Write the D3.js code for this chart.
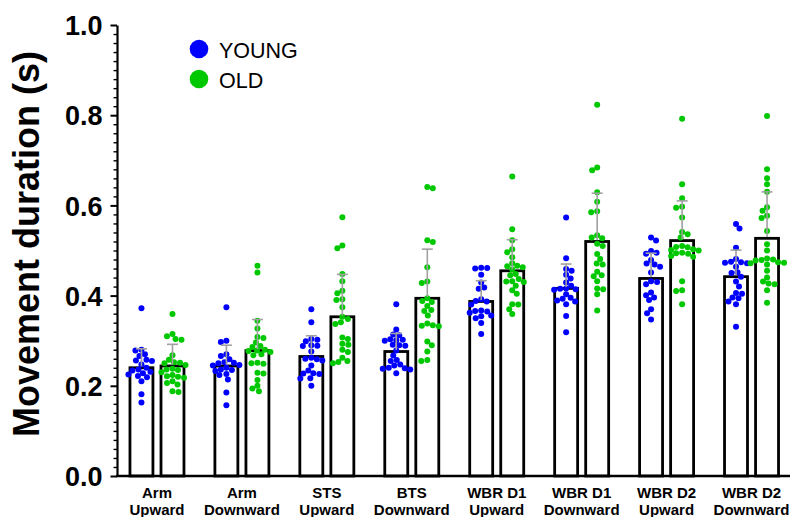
<!DOCTYPE html>
<html>
<head>
<meta charset="utf-8">
<script src="https://cdn.jsdelivr.net/npm/d3@7"></script>
<style>
  html, body { margin: 0; padding: 0; background: #fff; }
  svg { display: block; font-family: "Liberation Sans", Arial, sans-serif; }
</style>
</head>
<body>
<svg id="chart" width="790" height="517"></svg>
<script>
// ---------- DATA ----------
const categories = ["Arm Upward", "Arm Downward", "STS Upward", "BTS Downward",
                    "WBR D1 Upward", "WBR D1 Downward", "WBR D2 Upward", "WBR D2 Downward"];
const categoryLine1 = ["Arm", "Arm", "STS", "BTS", "WBR D1", "WBR D1", "WBR D2", "WBR D2"];
const categoryLine2 = ["Upward", "Downward", "Upward", "Downward", "Upward", "Downward", "Upward", "Downward"];
const seriesNames = ["YOUNG", "OLD"];

const youngMean = [0.240, 0.244, 0.265, 0.276, 0.387, 0.416, 0.438, 0.442];
const oldMean   = [0.244, 0.278, 0.353, 0.394, 0.455, 0.520, 0.522, 0.527];
const youngSD   = [0.042, 0.046, 0.046, 0.040, 0.046, 0.054, 0.056, 0.059];
const oldSD     = [0.048, 0.069, 0.094, 0.109, 0.069, 0.107, 0.088, 0.103];

const youngPoints = [
  [0.372, 0.280, 0.278, 0.270, 0.266, 0.258, 0.256, 0.255, 0.247, 0.240, 0.236, 0.234, 0.231, 0.228, 0.225, 0.222, 0.219, 0.210, 0.181, 0.163],
  [0.374, 0.300, 0.297, 0.270, 0.266, 0.259, 0.252, 0.251, 0.250, 0.246, 0.245, 0.240, 0.236, 0.235, 0.233, 0.226, 0.224, 0.214, 0.185, 0.157],
  [0.370, 0.341, 0.304, 0.302, 0.299, 0.290, 0.289, 0.288, 0.276, 0.262, 0.260, 0.259, 0.256, 0.245, 0.234, 0.228, 0.227, 0.226, 0.217, 0.216, 0.200],
  [0.381, 0.325, 0.314, 0.312, 0.303, 0.302, 0.301, 0.300, 0.291, 0.290, 0.289, 0.278, 0.267, 0.257, 0.255, 0.247, 0.245, 0.240, 0.239, 0.238, 0.236, 0.228],
  [0.462, 0.461, 0.460, 0.446, 0.429, 0.418, 0.415, 0.392, 0.388, 0.387, 0.380, 0.367, 0.366, 0.365, 0.362, 0.356, 0.354, 0.350, 0.339, 0.315],
  [0.573, 0.483, 0.459, 0.455, 0.446, 0.438, 0.429, 0.422, 0.416, 0.415, 0.414, 0.413, 0.403, 0.395, 0.393, 0.389, 0.387, 0.381, 0.355, 0.319],
  [0.529, 0.522, 0.499, 0.495, 0.493, 0.479, 0.471, 0.469, 0.464, 0.451, 0.432, 0.430, 0.425, 0.407, 0.401, 0.396, 0.390, 0.370, 0.361, 0.347],
  [0.559, 0.549, 0.506, 0.481, 0.475, 0.474, 0.473, 0.472, 0.464, 0.452, 0.450, 0.442, 0.431, 0.420, 0.406, 0.404, 0.396, 0.394, 0.387, 0.381, 0.331]
];
const oldPoints = [
  [0.359, 0.315, 0.310, 0.304, 0.302, 0.268, 0.258, 0.252, 0.251, 0.250, 0.246, 0.238, 0.236, 0.235, 0.230, 0.224, 0.221, 0.220, 0.218, 0.210, 0.206, 0.203, 0.188, 0.186],
  [0.466, 0.451, 0.344, 0.327, 0.308, 0.306, 0.296, 0.288, 0.286, 0.280, 0.278, 0.277, 0.275, 0.270, 0.268, 0.251, 0.250, 0.249, 0.229, 0.227, 0.213, 0.200, 0.194, 0.188],
  [0.574, 0.511, 0.505, 0.448, 0.432, 0.411, 0.405, 0.392, 0.390, 0.374, 0.353, 0.348, 0.341, 0.337, 0.307, 0.304, 0.293, 0.291, 0.280, 0.275, 0.262, 0.255, 0.253, 0.250],
  [0.641, 0.638, 0.523, 0.519, 0.463, 0.431, 0.428, 0.394, 0.388, 0.386, 0.377, 0.368, 0.366, 0.356, 0.338, 0.334, 0.333, 0.332, 0.298, 0.290, 0.276, 0.257, 0.255],
  [0.664, 0.547, 0.523, 0.503, 0.496, 0.485, 0.472, 0.466, 0.465, 0.463, 0.458, 0.448, 0.445, 0.437, 0.432, 0.431, 0.430, 0.422, 0.412, 0.404, 0.381, 0.380, 0.370, 0.359],
  [0.823, 0.684, 0.678, 0.629, 0.608, 0.587, 0.585, 0.534, 0.529, 0.527, 0.515, 0.510, 0.492, 0.481, 0.471, 0.469, 0.453, 0.445, 0.443, 0.432, 0.416, 0.414, 0.403, 0.367],
  [0.792, 0.647, 0.616, 0.597, 0.595, 0.573, 0.541, 0.536, 0.529, 0.510, 0.508, 0.507, 0.503, 0.501, 0.500, 0.495, 0.494, 0.493, 0.488, 0.486, 0.432, 0.412, 0.410, 0.381],
  [0.798, 0.680, 0.660, 0.647, 0.630, 0.596, 0.588, 0.577, 0.572, 0.543, 0.514, 0.500, 0.482, 0.480, 0.479, 0.478, 0.474, 0.473, 0.472, 0.469, 0.455, 0.440, 0.431, 0.427, 0.425, 0.412, 0.384]
];

const yMajorTicks = [0.0, 0.2, 0.4, 0.6, 0.8, 1.0];
const yLabel = "Movement duration (s)";
const seriesColors = ["#0000ff", "#00c800"];

// ---------- LAYOUT ----------
const svg = d3.select("#chart");
const axisX0 = 117, axisX1 = 790;

const y = d3.scaleLinear().domain([0, 1]).range([476, 25]);
const xg = d3.scaleBand().domain(categories).range([114.5, 794]).paddingInner(0).paddingOuter(0);
const xs = d3.scaleBand().domain(seriesNames).range([-27, 27]).paddingInner(0.26);

const groupCenter = c => xg(c) + xg.bandwidth() / 2;

const series = [
  { name: "YOUNG", mean: youngMean, sd: youngSD, pts: youngPoints, color: seriesColors[0] },
  { name: "OLD",   mean: oldMean,   sd: oldSD,   pts: oldPoints,   color: seriesColors[1] }
];

// Bars
const gBars = svg.append("g");
series.forEach(s => {
  gBars.selectAll(null)
    .data(categories)
    .enter().append("rect")
    .attr("x", (c) => groupCenter(c) + xs(s.name))
    .attr("y", (c, i) => y(s.mean[i]))
    .attr("width", xs.bandwidth())
    .attr("height", (c, i) => y(0) - y(s.mean[i]))
    .attr("fill", "#fff")
    .attr("stroke", "#000")
    .attr("stroke-width", 2.8);
});

// Beeswarm of points
const dotR = 3.0;
function swarm(values, cx) {
  const minD = 5.6;
  const placed = [];
  const sorted = values.slice().sort((a, b) => b - a);
  sorted.forEach((v, k) => {
    const py = y(v);
    let best = null;
    for (let step = 0; step < 200; step++) {
      const cands = step === 0 ? [0] : (k % 2 ? [step * 0.5, -step * 0.5] : [-step * 0.5, step * 0.5]);
      for (const off of cands) {
        const ok = placed.every(p => (p.x - off) ** 2 + (p.y - py) ** 2 >= minD * minD);
        if (ok) { best = off; break; }
      }
      if (best !== null) break;
    }
    placed.push({ x: best, y: py, v: v });
  });
  return placed.map(p => ({ cx: cx + p.x, cy: p.y }));
}

const gDots = svg.append("g");
series.forEach(s => {
  categories.forEach((c, i) => {
    const cx = groupCenter(c) + xs(s.name) + xs.bandwidth() / 2;
    const pos = swarm(s.pts[i], cx);
    gDots.selectAll(null).data(pos).enter().append("circle")
      .attr("cx", d => d.cx).attr("cy", d => d.cy)
      .attr("r", dotR).attr("fill", s.color);
  });
});

// Error bars (upper SD)
const gErr = svg.append("g").attr("stroke", "#a0a0a0").attr("stroke-width", 1.6);
series.forEach(s => {
  categories.forEach((c, i) => {
    const cx = groupCenter(c) + xs(s.name) + xs.bandwidth() / 2;
    const yt = y(s.mean[i] + s.sd[i]);
    gErr.append("line").attr("x1", cx).attr("x2", cx).attr("y1", y(s.mean[i]) - 1.4).attr("y2", yt);
    gErr.append("line").attr("x1", cx - 5.5).attr("x2", cx + 5.5).attr("y1", yt).attr("y2", yt);
  });
});

// Y axis: minor ticks
const minorTicks = d3.range(0, 1.0001, 0.02).filter(t => Math.abs(Math.round(t * 5) - t * 5) > 1e-6);
svg.append("g")
  .attr("transform", `translate(${axisX0},0)`)
  .call(d3.axisLeft(y).tickValues(minorTicks).tickSize(3.5).tickFormat(""))
  .call(g => g.select(".domain").remove())
  .call(g => g.selectAll("line").attr("stroke", "#000").attr("stroke-width", 1.4));

// Y axis: major
svg.append("g")
  .attr("transform", `translate(${axisX0},0)`)
  .call(d3.axisLeft(y).tickValues(yMajorTicks).tickSize(6.5).tickSizeOuter(0).tickPadding(8).tickFormat(d3.format(".1f")))
  .call(g => g.select(".domain").attr("stroke", "#000").attr("stroke-width", 2.2))
  .call(g => g.selectAll("line").attr("stroke", "#000").attr("stroke-width", 2))
  .call(g => g.selectAll("text")
    .attr("fill", "#000")
    .style("font-family", '"Liberation Sans", Arial, sans-serif')
    .style("font-size", "27px")
    .style("font-weight", "bold")
    .attr("dy", "0.36em"));

// X axis
const xAxisG = svg.append("g")
  .attr("transform", `translate(0,${y(0)})`)
  .call(d3.axisBottom(xg).tickSize(0).tickPadding(0).tickFormat(""));
xAxisG.select(".domain").remove();
svg.append("line")
  .attr("x1", axisX0 - 1).attr("x2", axisX1)
  .attr("y1", y(0)).attr("y2", y(0))
  .attr("stroke", "#000").attr("stroke-width", 2.6);

xAxisG.selectAll(".tick").each(function(c, i) {
  const t = d3.select(this).append("text")
    .attr("text-anchor", "middle")
    .attr("fill", "#000")
    .style("font-size", "15px")
    .style("font-weight", "bold");
  t.append("tspan").attr("x", 0).attr("y", 22).text(categoryLine1[i]);
  t.append("tspan").attr("x", 0).attr("y", 39).text(categoryLine2[i]);
});

// Y label
svg.append("text")
  .attr("transform", `translate(39,244) rotate(-90)`)
  .attr("text-anchor", "middle")
  .attr("fill", "#000")
  .style("font-size", "36px")
  .style("font-weight", "bold")
  .text(yLabel);

// Legend
const legend = svg.append("g");
seriesNames.forEach((n, i) => {
  legend.append("circle").attr("cx", 199).attr("cy", 49 + i * 30).attr("r", 9.3).attr("fill", seriesColors[i]);
  legend.append("text").attr("x", 219).attr("y", 57.5 + i * 30)
    .attr("fill", "#000").style("font-size", "21.5px").text(n);
});
</script>
</body>
</html>
